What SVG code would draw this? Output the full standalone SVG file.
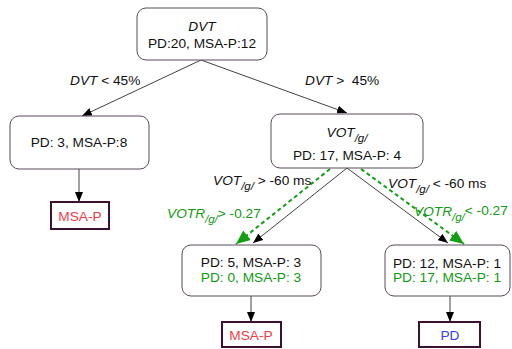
<svg xmlns="http://www.w3.org/2000/svg" width="512" height="349" viewBox="0 0 512 349">
<defs>
<marker id="ab" viewBox="0 0 10 8" refX="10" refY="4" markerWidth="10" markerHeight="8" markerUnits="userSpaceOnUse" orient="auto"><path d="M0,0 L10,4 L0,8 z" fill="#000"/></marker>
<marker id="ag" viewBox="0 0 14 12" refX="14" refY="6" markerWidth="14" markerHeight="12" markerUnits="userSpaceOnUse" orient="auto"><path d="M0,0 L14,6 L0,12 z" fill="#12a012"/></marker>
<style>
text{font-family:"Liberation Sans",Arial,sans-serif;font-size:13.7px;fill:#111}
.c{text-anchor:middle}
.i{font-style:italic}
.s{font-size:11.5px;font-style:italic}
.g{fill:#129a12}
.node{fill:#fff;stroke:#5a4a5a;stroke-width:1}
.leaf{fill:#fff;stroke:#3a1230;stroke-width:2}
.red{fill:#f03c46}
.blue{fill:#3a3cf0}
.e{stroke:#111;stroke-width:0.8;fill:none;marker-end:url(#ab)}
.gd{stroke:#12a012;stroke-width:2;stroke-dasharray:4,3;fill:none;marker-end:url(#ag)}
</style>
</defs>
<g id="connectors">
<line class="e" x1="201" y1="60" x2="82" y2="116"/>
<line class="e" x1="201" y1="60" x2="347" y2="113"/>
<line class="e" x1="79" y1="169" x2="79" y2="202"/>
<line class="e" x1="347" y1="168" x2="253" y2="243"/>
<line class="e" x1="347" y1="168" x2="448" y2="243"/>
<line class="gd" x1="330" y1="169" x2="236" y2="244"/>
<line class="gd" x1="361" y1="169" x2="464" y2="244"/>
<line class="e" x1="251" y1="296" x2="251" y2="322"/>
<line class="e" x1="450" y1="296" x2="450" y2="322"/>
</g>
<g id="edge-labels">
<text x="70" y="85"><tspan class="i">DVT</tspan> &lt; 45%</text>
<text x="305" y="85"><tspan class="i">DVT</tspan> &gt;&#160; 45%</text>
<text x="213" y="185"><tspan class="i">VOT</tspan><tspan class="s" dy="5">/g/</tspan><tspan dy="-5"> &gt; -60 ms</tspan></text>
<text x="167" y="218" class="g"><tspan class="i">VOTR</tspan><tspan class="s" dy="5">/g/</tspan><tspan dy="-5">&gt; -0.27</tspan></text>
<text x="388" y="188"><tspan class="i">VOT</tspan><tspan class="s" dy="5">/g/</tspan><tspan dy="-5"> &lt; -60 ms</tspan></text>
<text x="414" y="216" class="g"><tspan class="i">VOTR</tspan><tspan class="s" dy="5">/g/</tspan><tspan dy="-6">&lt; -0.27</tspan></text>
</g>
<g id="root">
<rect class="node" x="137" y="8" width="130" height="52" rx="9"/>
<text class="c i" x="202" y="31">DVT</text>
<text class="c" x="202" y="48">PD:20, MSA-P:12</text>
</g>
<g id="left">
<rect class="node" x="10" y="116" width="139" height="53" rx="9"/>
<text class="c" x="79" y="147">PD: 3, MSA-P:8</text>
</g>
<g id="right">
<rect class="node" x="271" y="114" width="152" height="54" rx="9"/>
<text class="c" x="347" y="137"><tspan class="i">VOT</tspan><tspan class="s" dy="5">/g/</tspan></text>
<text class="c" x="347" y="160">PD: 17, MSA-P: 4</text>
</g>
<g id="bottom-left">
<rect class="node" x="182" y="245" width="139" height="51" rx="9"/>
<text class="c" x="251" y="267">PD: 5, MSA-P: 3</text>
<text class="c g" x="251" y="282">PD: 0, MSA-P: 3</text>
</g>
<g id="bottom-right">
<rect class="node" x="385" y="245" width="125" height="51" rx="9"/>
<text class="c" x="447" y="268">PD: 12, MSA-P: 1</text>
<text class="c g" x="447" y="282">PD: 17, MSA-P: 1</text>
</g>
<g id="leaf-left">
<rect class="leaf" x="51" y="202" width="58" height="27"/>
<text class="c red" x="80" y="221">MSA-P</text>
</g>
<g id="leaf-mid">
<rect class="leaf" x="222" y="322" width="59" height="25"/>
<text class="c red" x="251" y="340">MSA-P</text>
</g>
<g id="leaf-right">
<rect class="leaf" x="419" y="322" width="61" height="25"/>
<text class="c blue" x="450" y="340">PD</text>
</g>
</svg>
